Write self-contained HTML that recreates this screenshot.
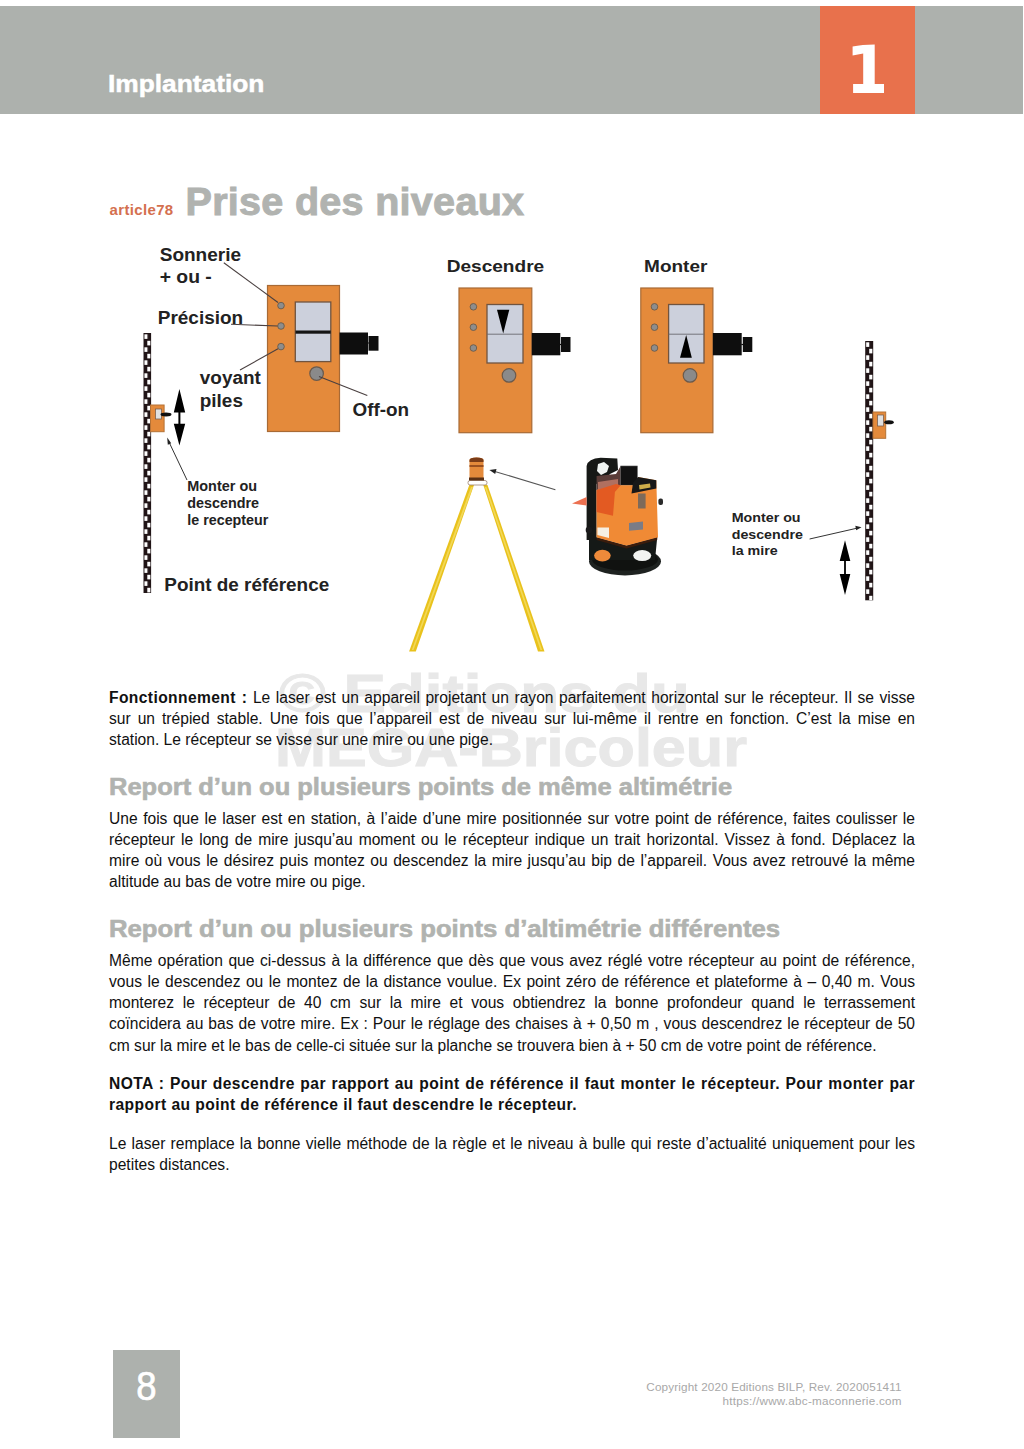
<!DOCTYPE html>
<html><head><meta charset="utf-8">
<style>
html,body{margin:0;padding:0;background:#fff;}
body{width:1024px;height:1449px;position:relative;overflow:hidden;font-family:"Liberation Sans",sans-serif;}
.band{position:absolute;left:0;top:6px;width:1023px;height:108px;background:#adb1ad;}
.chap{position:absolute;left:820px;top:6px;width:95px;height:108px;background:#e8714c;}
.chapn{position:absolute;left:820px;width:95px;top:30px;text-align:center;color:#fff;font-weight:bold;font-size:68px;line-height:80px;}
.impl{position:absolute;left:108px;top:69px;color:#fff;font-weight:bold;font-size:24.5px;line-height:30px;transform:scaleX(1.074);-webkit-text-stroke:0.5px #fff;transform-origin:0 0;}
.art{position:absolute;left:109.5px;top:199.8px;color:#d4704f;font-weight:bold;font-size:15px;line-height:20px;letter-spacing:0.35px;}
.title{position:absolute;left:185.5px;top:178.5px;color:#b1b3b0;font-weight:bold;font-size:39.5px;line-height:44px;letter-spacing:0.3px;-webkit-text-stroke:1px #b1b3b0;}
.wm{position:absolute;color:#e8e8e8;-webkit-text-stroke:1px #e8e8e8;font-weight:bold;font-size:53px;line-height:60px;white-space:nowrap;transform-origin:0 0;}
.l{position:absolute;left:109px;width:806px;font-size:15.6px;line-height:20px;color:#111;text-align:justify;text-align-last:justify;white-space:nowrap;letter-spacing:0;}
.l.b{letter-spacing:0.44px;}
.l.j{white-space:normal;}
.h{position:absolute;left:108.5px;color:#b1b3b0;-webkit-text-stroke:0.6px #b1b3b0;font-weight:bold;font-size:23.3px;line-height:28px;white-space:nowrap;transform:scaleX(1.094);transform-origin:0 0;}
.b{font-weight:bold;}
.pg{position:absolute;left:112.6px;top:1350px;width:67.2px;height:87.7px;background:#adb1ad;color:#fff;font-size:40.5px;line-height:73px;text-align:center;}
.foot{position:absolute;right:122.3px;text-align:right;color:#a8a8a8;font-size:11.7px;line-height:14px;white-space:nowrap;}
</style></head>
<body>
<div class="band"></div>
<div class="chap"></div>
<svg width="1024" height="120" style="position:absolute;left:0;top:0;"><path d="M852.6,46.4 Q862,44.8 874.7,44.5 L874.7,84.1 L884,84.1 L884,93.1 L853.1,93.1 L853.1,84.1 L863.2,84.1 L863.2,53.5 L852.6,55.4 Z" fill="#fff"/></svg>
<div class="impl">Implantation</div>

<div class="art">article78</div>
<div class="title">Prise des niveaux</div>

<svg class="dg" width="1024" height="1449" viewBox="0 0 1024 1449" style="position:absolute;left:0;top:0;">
<defs>
<filter id="soft" x="-5%" y="-5%" width="110%" height="110%"><feGaussianBlur stdDeviation="0.45"/></filter>
<pattern id="stL" patternUnits="userSpaceOnUse" x="143.5" y="334" width="7.6" height="13">
<rect x="0.9" y="0.3" width="3.1" height="4.6" fill="#fff"/><rect x="3.8" y="6.8" width="3.1" height="4.6" fill="#fff"/>
</pattern>
<pattern id="stR" patternUnits="userSpaceOnUse" x="865.2" y="342" width="8" height="13">
<rect x="0.9" y="0.3" width="3.2" height="4.6" fill="#fff"/><rect x="4" y="6.8" width="3.2" height="4.6" fill="#fff"/>
</pattern>
</defs>
<g font-family="Liberation Sans" font-weight="bold" fill="#222">
<!-- left staff -->
<rect x="143.5" y="333" width="7.6" height="260" fill="#201416"/>
<rect x="143.5" y="333" width="7.6" height="260" fill="url(#stL)"/>
<!-- small receiver on left staff -->
<rect x="150.5" y="405" width="13.6" height="26.7" fill="#e48a3b" stroke="#b57236" stroke-width="1"/>
<rect x="155.5" y="409" width="6" height="10" fill="#e0e0e0" stroke="#7a6050" stroke-width="0.8"/>
<ellipse cx="166" cy="414.5" rx="5.5" ry="1.9" fill="#111"/>
<!-- double arrow left -->
<path d="M179.4,389 L185.2,412.4 L180.4,412.4 L180.4,423.7 L185.2,423.7 L179.4,445.6 L173.8,423.7 L178.4,423.7 L178.4,412.4 L173.8,412.4 Z" fill="#000"/>
<!-- leader to small receiver -->
<line x1="187" y1="480" x2="168.5" y2="441" stroke="#333" stroke-width="1"/>
<path d="M167.2,437.5 L171.2,443.2 L167.8,444.8 Z" fill="#222"/>

<!-- big receiver -->
<rect x="267.5" y="285.5" width="72" height="146" fill="#e48a3b" stroke="#a86a35" stroke-width="1.2"/>
<circle cx="281" cy="305.6" r="3.3" fill="#8d8d8d" stroke="#6a5a4a" stroke-width="0.9"/>
<circle cx="281" cy="326" r="3.3" fill="#8d8d8d" stroke="#6a5a4a" stroke-width="0.9"/>
<circle cx="281" cy="346.6" r="3.3" fill="#8d8d8d" stroke="#6a5a4a" stroke-width="0.9"/>
<rect x="295.3" y="302" width="35.5" height="59.6" fill="#ccd0dc" stroke="#705440" stroke-width="1.3"/>
<rect x="295.5" y="330.5" width="35.2" height="3.2" fill="#151515"/>
<circle cx="316.6" cy="373.6" r="6.8" fill="#8a8a8a" stroke="#6b5a4c" stroke-width="1.2"/>
<rect x="339.5" y="332.5" width="28.5" height="22" fill="#0e0e0e"/>
<rect x="368.5" y="336" width="10" height="14.7" fill="#0e0e0e"/><line x1="367" y1="343" x2="369" y2="343" stroke="#0e0e0e" stroke-width="1.2"/>
<line x1="223.8" y1="262.8" x2="278" y2="302.5" stroke="#4a4040" stroke-width="1.1"/>
<line x1="231" y1="324.3" x2="277.5" y2="326" stroke="#4a4040" stroke-width="1.1"/>
<line x1="240" y1="370" x2="278" y2="348.7" stroke="#4a4040" stroke-width="1.1"/>
<line x1="319" y1="376.5" x2="367.3" y2="395.5" stroke="#4a4040" stroke-width="1.1"/>

<!-- descendre receiver -->
<rect x="459" y="288" width="72.8" height="144.7" fill="#e48a3b" stroke="#a86a35" stroke-width="1.2"/>
<circle cx="473.4" cy="306.8" r="3.3" fill="#8d8d8d" stroke="#6a5a4a" stroke-width="0.9"/>
<circle cx="473.4" cy="327.2" r="3.3" fill="#8d8d8d" stroke="#6a5a4a" stroke-width="0.9"/>
<circle cx="473.4" cy="348" r="3.3" fill="#8d8d8d" stroke="#6a5a4a" stroke-width="0.9"/>
<rect x="487" y="304.5" width="36" height="58.5" fill="#ccd0dc" stroke="#705440" stroke-width="1.3"/>
<line x1="487" y1="334.2" x2="523" y2="334.2" stroke="#6a6a70" stroke-width="0.9"/>
<path d="M497,309.7 L509.3,309.7 L503.2,333.6 Z" fill="#000"/>
<circle cx="509" cy="375.4" r="6.8" fill="#8a8a8a" stroke="#6b5a4c" stroke-width="1.2"/>
<rect x="531.8" y="333" width="28.5" height="22.3" fill="#0e0e0e"/>
<rect x="561" y="337" width="9.5" height="15" fill="#0e0e0e"/><line x1="559.5" y1="344.5" x2="561.5" y2="344.5" stroke="#0e0e0e" stroke-width="1.2"/>

<!-- monter receiver -->
<rect x="640.8" y="288" width="72.1" height="144.7" fill="#e48a3b" stroke="#a86a35" stroke-width="1.2"/>
<circle cx="654.5" cy="306.8" r="3.3" fill="#8d8d8d" stroke="#6a5a4a" stroke-width="0.9"/>
<circle cx="654.5" cy="327.2" r="3.3" fill="#8d8d8d" stroke="#6a5a4a" stroke-width="0.9"/>
<circle cx="654.5" cy="348" r="3.3" fill="#8d8d8d" stroke="#6a5a4a" stroke-width="0.9"/>
<rect x="668.6" y="304.5" width="35.4" height="58.5" fill="#ccd0dc" stroke="#705440" stroke-width="1.3"/>
<line x1="668.6" y1="334.2" x2="704" y2="334.2" stroke="#6a6a70" stroke-width="0.9"/>
<path d="M680,357.8 L691.8,357.8 L686.2,335 Z" fill="#000"/>
<circle cx="690" cy="375.4" r="6.8" fill="#8a8a8a" stroke="#6b5a4c" stroke-width="1.2"/>
<rect x="712.9" y="333" width="28.8" height="22.3" fill="#0e0e0e"/>
<rect x="742.8" y="337" width="9.5" height="15" fill="#0e0e0e"/><line x1="741.3" y1="344.5" x2="743.3" y2="344.5" stroke="#0e0e0e" stroke-width="1.2"/>

<!-- right staff -->
<rect x="865.2" y="341" width="8" height="259.3" fill="#201416"/>
<rect x="865.2" y="341" width="8" height="259.3" fill="url(#stR)"/>
<rect x="873" y="412" width="12.7" height="26.3" fill="#e48a3b" stroke="#b57236" stroke-width="1"/>
<rect x="877.5" y="415" width="6" height="11" fill="#e0e0e0" stroke="#7a6050" stroke-width="0.8"/>
<ellipse cx="889" cy="422.3" rx="4.8" ry="2" fill="#111"/>
<path d="M845,540.2 L850.3,561 L845.9,561 L845.9,574 L850.3,574 L845,595 L839.7,574 L844.1,574 L844.1,561 L839.7,561 Z" fill="#000"/>
<line x1="809.6" y1="539" x2="857" y2="528.2" stroke="#333" stroke-width="1"/>
<path d="M861.5,527.3 L855.3,525.8 L856.2,530.3 Z" fill="#222"/>

<!-- tripod -->
<path d="M469.3,485 L474,485 L415.8,651.5 L409.1,651.5 Z" fill="#e9c21c"/><path d="M471,487 L473,487 L413.5,650 L411.8,650 Z" fill="#f2d858"/>
<path d="M483.3,485 L487.5,485 L544.5,651.5 L538,651.5 Z" fill="#e9c21c"/><path d="M484.8,487 L486.5,487 L542.2,650 L540.4,650 Z" fill="#f2d858"/>
<rect x="468" y="480.5" width="19" height="4.5" rx="2" fill="#fff" stroke="#9a8070" stroke-width="0.8"/>
<path d="M469.5,460 Q469.5,457.5 476.5,457.5 Q483.5,457.5 483.5,460 L483.5,479 L469.5,479 Z" fill="#e48a3b"/>
<path d="M469.5,460 Q469.5,457.5 476.5,457.5 Q483.5,457.5 483.5,460 L483.5,462 L469.5,462 Z" fill="#7a3c18"/>
<rect x="469.5" y="465" width="14" height="2" fill="#9a5020"/>
<rect x="469" y="477.5" width="15" height="3" fill="#5a3015"/>
<line x1="555.4" y1="489.7" x2="494" y2="471.2" stroke="#555" stroke-width="1.1"/>
<path d="M489.4,469.9 L496.5,469 L495.2,474 Z" fill="#222"/>

<text x="159.7" y="260.5" font-size="17.6" textLength="81.4" lengthAdjust="spacingAndGlyphs">Sonnerie</text>
<text x="159.7" y="283.2" font-size="17.6" textLength="52.1" lengthAdjust="spacingAndGlyphs">+ ou -</text>
<text x="157.8" y="323.5" font-size="17.6" textLength="85.3" lengthAdjust="spacingAndGlyphs">Précision</text>
<text x="199.8" y="384" font-size="17.6" textLength="61.0" lengthAdjust="spacingAndGlyphs">voyant</text>
<text x="199.8" y="407.2" font-size="17.6" textLength="43.1" lengthAdjust="spacingAndGlyphs">piles</text>
<text x="352.5" y="415.5" font-size="17.6" textLength="56.6" lengthAdjust="spacingAndGlyphs">Off-on</text>
<text x="446.7" y="272" font-size="17.3" textLength="97.5" lengthAdjust="spacingAndGlyphs">Descendre</text>
<text x="644.1" y="272.4" font-size="17.3" textLength="63.3" lengthAdjust="spacingAndGlyphs">Monter</text>
<text x="164.3" y="591" font-size="18.2" textLength="164.9" lengthAdjust="spacingAndGlyphs">Point de référence</text>
<text x="187.3" y="490.6" font-size="14.2" textLength="69.7" lengthAdjust="spacingAndGlyphs">Monter ou</text>
<text x="187.3" y="507.8" font-size="14.2" textLength="71.8" lengthAdjust="spacingAndGlyphs">descendre</text>
<text x="187.3" y="524.8" font-size="14.2" textLength="81.0" lengthAdjust="spacingAndGlyphs">le recepteur</text>
<text x="731.7" y="521.7" font-size="13.6" textLength="68.9" lengthAdjust="spacingAndGlyphs">Monter ou</text>
<text x="731.7" y="538.5" font-size="13.6" textLength="71.2" lengthAdjust="spacingAndGlyphs">descendre</text>
<text x="731.7" y="554.9" font-size="13.6" textLength="46.0" lengthAdjust="spacingAndGlyphs">la mire</text>
<!-- laser device -->
<g>
<ellipse cx="625" cy="561.4" rx="36" ry="14" fill="#1e2220"/>
<ellipse cx="625" cy="559.5" rx="33" ry="11" fill="#101210"/>
<path d="M589,526 L596.6,537.4 L626.5,545.7 L657.2,537.4 L655,560 L589,560 Z" fill="#151917"/>
<path d="M586.6,540 L586.6,466 Q588,458.5 600.7,457.8 L617.3,458.6 L618,470 L610,474 L605,480 L596.6,484 L596.6,540 Z" fill="#161816"/>
<path d="M598,464 L604,462 L609,466 L607,472 L601,475 L597,471 Z" fill="#f0f4f2"/>
<path d="M596.6,476 L616,474 L620.7,466 L620.7,486 L596.6,490 Z" fill="#5a3c38"/><path d="M598,482 L618,479 L618,486 L598,490 Z" fill="#b07060"/>
<rect x="620.7" y="466" width="16.6" height="19.2" fill="#121212" stroke="#555" stroke-width="0.6"/>
<path d="M596.6,490 L620.7,485.2 L637.3,485.2 L638,476.9 L656.3,480.2 L658,537.4 L626.5,545.7 L596.6,537.4 Z" fill="#f08a35"/>
<path d="M596.6,490 L616,484 L620.7,485.2 L614.9,492 L613,515.8 L596.6,512 Z" fill="#e35a22"/>
<path d="M638,476.9 L656.3,480.2 L656.3,488.5 L631.5,493.5 L633,483 Z" fill="#181818"/>
<path d="M639,485 L650,483.5 L650.5,487.5 L639.5,489.5 Z" fill="#cfae4a"/>
<path d="M596.6,537.4 L626.5,545.7 L657.2,537.4 L657.2,540 L626.5,548.5 L596.6,540 Z" fill="#3a1c0c"/>
<rect x="638" y="493.5" width="7.6" height="15" fill="#7d6a5a"/>
<path d="M572,503.5 L586.6,497 L586.6,505.5 Z" fill="#ec7050"/>
<path d="M597.4,527.4 L609,527.4 L609,538 L597.4,535 Z" fill="#f6efe2"/>
<path d="M629,523 L643,521.6 L643,529.5 L629,530.7 Z" fill="#7a7c86"/>
<circle cx="589" cy="530" r="3.3" fill="#1a1a1a"/>
<ellipse cx="602.4" cy="555.6" rx="8.3" ry="5.8" fill="#ee8a3a"/>
<ellipse cx="642.2" cy="555.6" rx="9" ry="5.5" fill="#f2f4f2"/>
<rect x="658.4" y="498.5" width="4.6" height="6.6" rx="2" fill="#2a2a2a"/>
</g>
</g>
</svg>


<div class="wm" style="left:278.5px;top:663.6px;transform:scaleX(1.20);">© Editions du</div>
<div class="wm" style="left:274.5px;top:718.3px;transform:scaleX(1.153);">MEGA-Bricoleur</div>

<div class="l j" style="top:688px;"><span class="b" style="letter-spacing:0.4px;">Fonctionnement :</span> Le laser est un appareil projetant un rayon parfaitement horizontal sur le récepteur. Il se visse</div>
<div class="l j" style="top:709px;">sur un trépied stable. Une fois que l’appareil est de niveau sur lui-même il rentre en fonction. C’est la mise en</div>
<div class="l" style="top:730px;text-align-last:left;">station. Le récepteur se visse sur une mire ou une pige.</div>

<div class="h" style="top:772.9px;">Report d’un ou plusieurs points de même altimétrie</div>

<div class="l j" style="top:809px;">Une fois que le laser est en station, à l’aide d’une mire positionnée sur votre point de référence, faites coulisser le</div>
<div class="l j" style="top:830px;">récepteur le long de mire jusqu’au moment ou le récepteur indique un trait horizontal. Vissez à fond. Déplacez la</div>
<div class="l j" style="top:851px;">mire où vous le désirez puis montez ou descendez la mire jusqu’au bip de l’appareil. Vous avez retrouvé la même</div>
<div class="l" style="top:872px;text-align-last:left;">altitude au bas de votre mire ou pige.</div>

<div class="h" style="top:915.1px;transform:scaleX(1.103);">Report d’un ou plusieurs points d’altimétrie différentes</div>

<div class="l j" style="top:951px;">Même opération que ci-dessus à la différence que dès que vous avez réglé votre récepteur au point de référence,</div>
<div class="l j" style="top:972px;">vous le descendez ou le montez de la distance voulue. Ex point zéro de référence et plateforme à – 0,40 m. Vous</div>
<div class="l j" style="top:993px;">monterez le récepteur de 40 cm sur la mire et vous obtiendrez la bonne profondeur quand le terrassement</div>
<div class="l j" style="top:1014px;">coïncidera au bas de votre mire. Ex : Pour le réglage des chaises à + 0,50 m , vous descendrez le récepteur de 50</div>
<div class="l" style="top:1036px;text-align-last:left;">cm sur la mire et le bas de celle-ci située sur la planche se trouvera bien à + 50 cm de votre point de référence.</div>

<div class="l j b" style="top:1074px;">NOTA : Pour descendre par rapport au point de référence il faut monter le récepteur. Pour monter par</div>
<div class="l b" style="top:1095px;text-align-last:left;">rapport au point de référence il faut descendre le récepteur.</div>

<div class="l j" style="top:1134px;">Le laser remplace la bonne vielle méthode de la règle et le niveau à bulle qui reste d’actualité uniquement pour les</div>
<div class="l" style="top:1155px;text-align-last:left;">petites distances.</div>

<div class="pg"><span style="display:inline-block;transform:scaleX(0.9);-webkit-text-stroke:0.7px #fff;">8</span></div>
<div class="foot" style="top:1380.3px;letter-spacing:0.16px;">Copyright 2020 Editions BILP, Rev. 2020051411</div>
<div class="foot" style="top:1394.2px;letter-spacing:0.235px;">https://www.abc-maconnerie.com</div>
</body></html>
